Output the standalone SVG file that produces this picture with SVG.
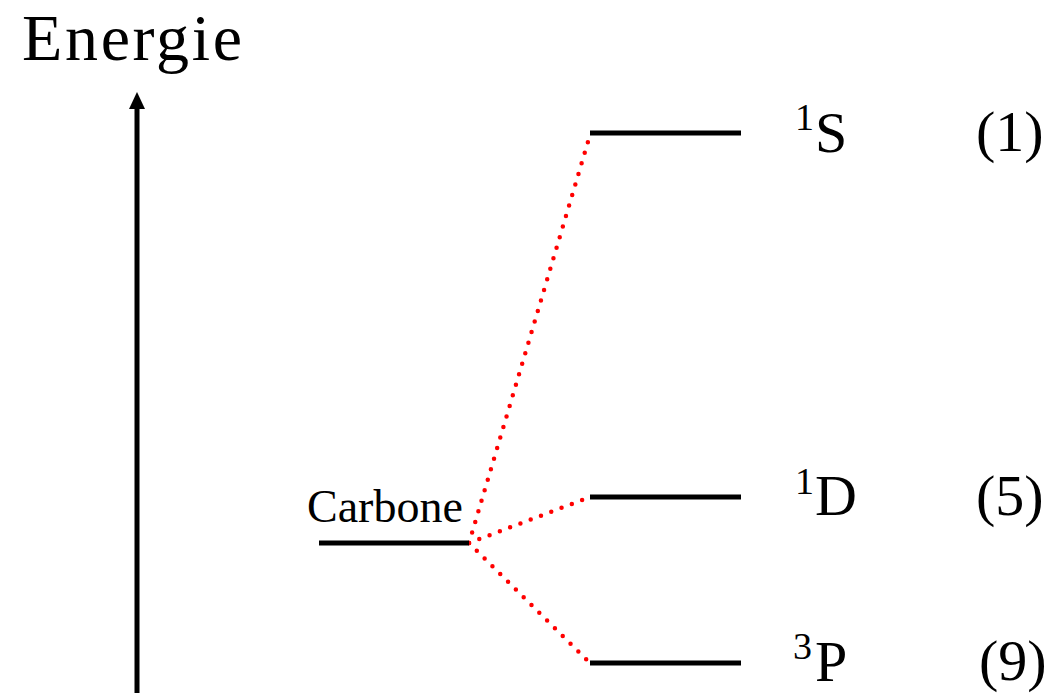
<svg xmlns="http://www.w3.org/2000/svg" width="1061" height="693" viewBox="0 0 1061 693">
<style>
text{font-family:"Liberation Serif","DejaVu Serif",serif;fill:#000}
.lvl{stroke:#000;stroke-width:5;fill:none}
.dot{stroke:#ff0000;stroke-width:4.5;stroke-linecap:round;stroke-dasharray:0 11;fill:none}
.big{font-size:58px}
.sup{font-size:38px}
</style>
<rect width="1061" height="693" fill="#fff"/>
<g id="axis">
<line x1="137" y1="693" x2="137" y2="105" stroke="#000" stroke-width="5"/>
<polygon points="137,92 129,109 145,109" fill="#000"/>
<text x="22" y="60" font-size="66" textLength="220" lengthAdjust="spacing">Energie</text>
</g>
<g id="connectors">
<line class="dot" x1="469" y1="543" x2="590" y2="135"/>
<line class="dot" x1="469" y1="543" x2="590" y2="497"/>
<line class="dot" x1="469" y1="543" x2="590" y2="663"/>
</g>
<g id="carbone">
<line class="lvl" x1="319" y1="543" x2="469" y2="543"/>
<text x="307" y="522" font-size="46">Carbone</text>
</g>
<g id="level-1S">
<line class="lvl" x1="590" y1="133" x2="741" y2="133"/>
<text x="795" y="130" class="sup">1</text>
<text x="815" y="152" class="big">S</text>
<text x="976" y="151" class="big">(1)</text>
</g>
<g id="level-1D">
<line class="lvl" x1="590" y1="497" x2="741" y2="497"/>
<text x="795" y="494" class="sup">1</text>
<text x="815" y="515" class="big">D</text>
<text x="976" y="515" class="big">(5)</text>
</g>
<g id="level-3P">
<line class="lvl" x1="590" y1="663" x2="741" y2="663"/>
<text x="793" y="659" class="sup">3</text>
<text x="815" y="681" class="big">P</text>
<text x="979" y="680" class="big">(9)</text>
</g>
</svg>
